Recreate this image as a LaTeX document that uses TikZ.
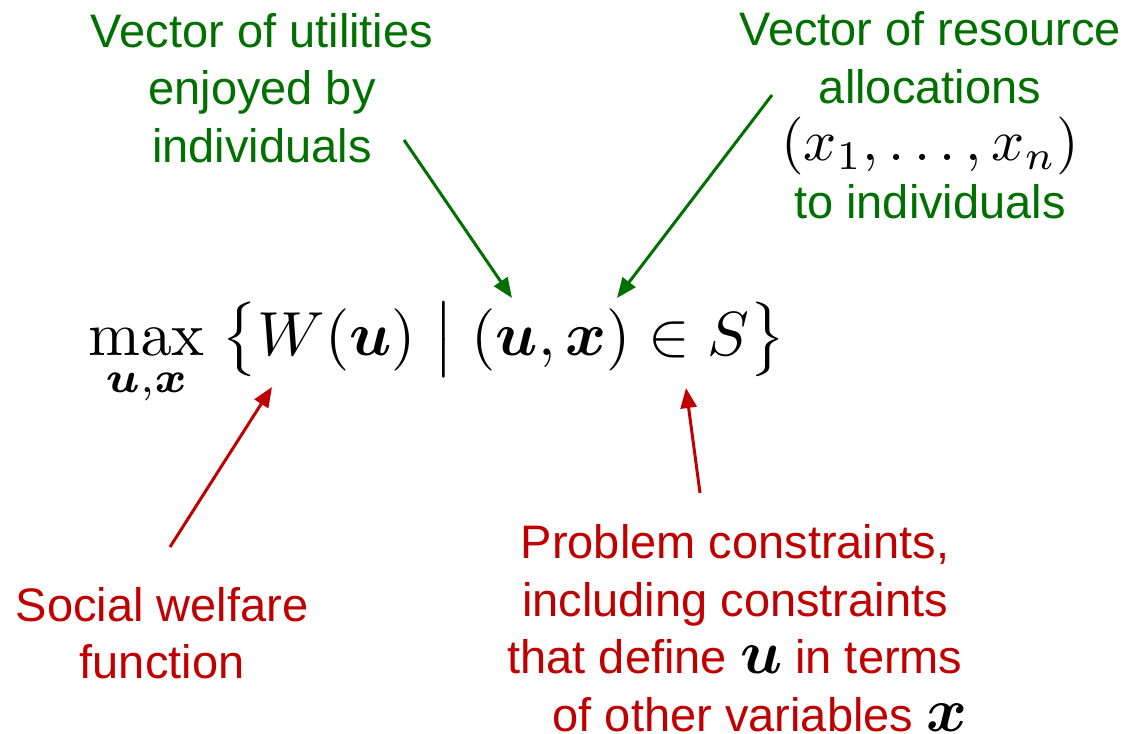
\documentclass[tikz,border=0pt]{standalone}
\usepackage{amsmath}
\usepackage[no-math]{fontspec}
\setmainfont{Liberation Sans}
\usetikzlibrary{arrows.meta}
\definecolor{dgreen}{RGB}{0,112,0}
\definecolor{dred}{RGB}{192,0,0}
\newcommand{\mybigmath}[2]{\scalebox{#1}{\fontsize{10}{12}\selectfont$#2$}}
\tikzset{
  lbl/.style={align=center, inner sep=0pt, font=\fontsize{47}{57.5}\selectfont},
  garrow/.style={draw=dgreen, line width=3pt, -{Triangle[length=20pt,width=16pt]}},
  rarrow/.style={draw=dred, line width=3pt, -{Triangle[length=20pt,width=16pt]}}
}
\begin{document}
\begin{tikzpicture}[x=1pt,y=-1pt]
\useasboundingbox (0,0) rectangle (1128,734);
\node[lbl, text=dgreen] (g1) at (262,88) {Vector of utilities\\enjoyed by\\individuals};
\node[lbl, text=dgreen] (g2) at (930,115) {Vector of resource\\allocations\\{\color{black}\mybigmath{5.8}{(x_1,\ldots,x_n)}}\\to individuals};
\node[inner sep=0pt, anchor=base west] (f) at (88,355)
  {\resizebox{697pt}{!}{$\displaystyle \max_{\boldsymbol{u},\boldsymbol{x}}\;\bigl\{W(\boldsymbol{u})\;\big|\;(\boldsymbol{u},\boldsymbol{x})\in S\bigr\}$}};
\node[lbl, text=dred] (r1) at (162,633) {Social welfare\\function};
\node[lbl, text=dred] (r2) at (735,628) {Problem constraints,\\including constraints\\that define {\color{black}\mybigmath{6.2}{\boldsymbol{u}}} in terms\\\hspace*{50pt}of other variables {\color{black}\mybigmath{6.2}{\boldsymbol{x}}}};
\coordinate (g1s) at (404,140);
\coordinate (g1e) at (512,298);
\coordinate (g2s) at (772,95);
\coordinate (g2e) at (617,298);
\coordinate (r1s) at (170,547);
\coordinate (r1e) at (272,387);
\coordinate (r2s) at (700,493);
\coordinate (r2e) at (686,388);
\draw[garrow] (g1s) -- (g1e);
\draw[garrow] (g2s) -- (g2e);
\draw[rarrow] (r1s) -- (r1e);
\draw[rarrow] (r2s) -- (r2e);
\end{tikzpicture}
\end{document}
